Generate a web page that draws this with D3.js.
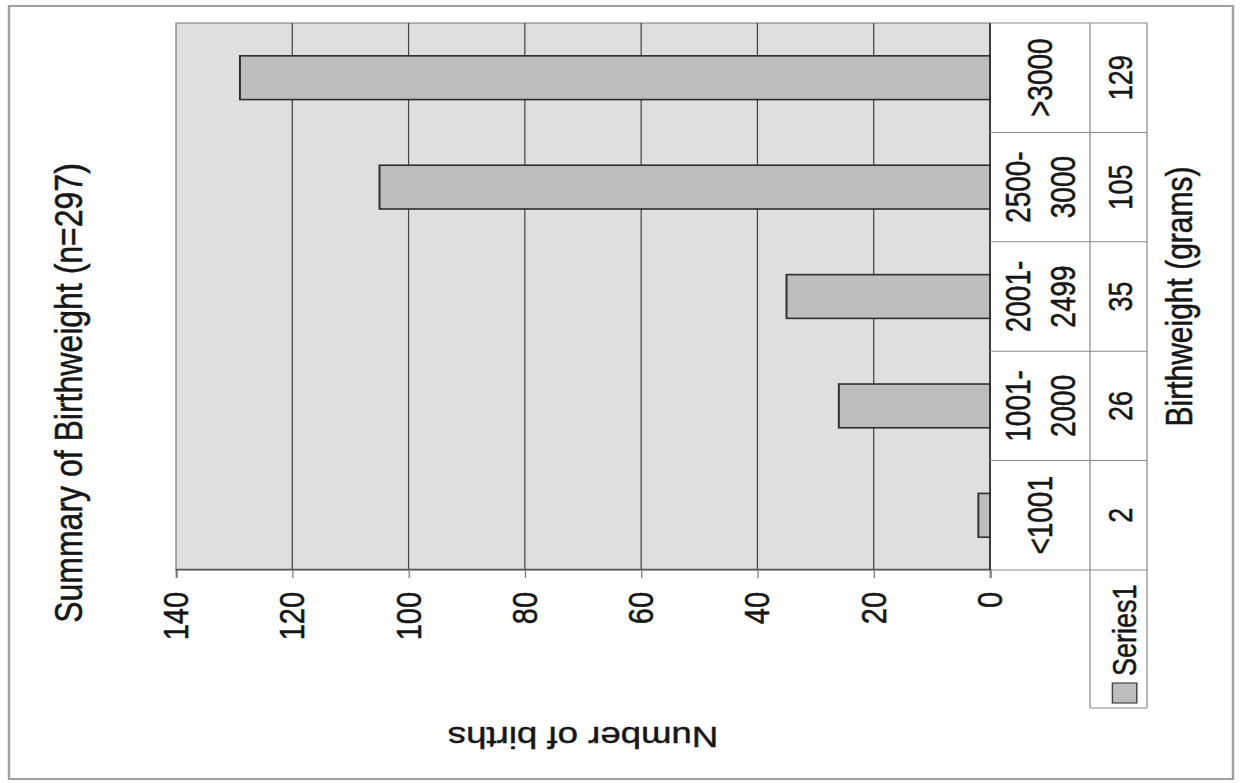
<!DOCTYPE html>
<html>
<head>
<meta charset="utf-8">
<script src="https://cdn.jsdelivr.net/npm/d3@7"></script>
<style>
  body { margin: 0; background: #fff; }
  svg { display: block; font-family: "Liberation Sans", Arial, sans-serif; }
  svg text { stroke: #161616; stroke-width: 0.45px; }
</style>
</head>
<body>
<div id="chart"></div>
<script>
const categories = ["<1001", "1001-2000", "2001-2499", "2500-3000", ">3000"];
const categoryLines = [["<1001"], ["1001-", "2000"], ["2001-", "2499"], ["2500-", "3000"], [">3000"]];
const births = [2, 26, 35, 105, 129];
const valueTicks = [0, 20, 40, 60, 80, 100, 120, 140];
const seriesName = "Series1";
const chartTitle = "Summary of Birthweight (n=297)";
const valueTitle = "Number of births";
const categoryTitle = "Birthweight (grams)";

const width = 1240, height = 783;
const stretch = 1.22; // the scanned page is stretched sideways

// the chart is laid out upright (u across, v down) and then turned a quarter turn
const plot = { left: 213, right: 760, top: 176 / stretch, bottom: 990 / stretch };
const table = { catEnd: 1090 / stretch, valEnd: 1147 / stretch, legendLeft: 75 };
const ink = "#161616";

const svg = d3.select("#chart").append("svg")
  .attr("width", width)
  .attr("height", height);

const g = svg.append("g")
  .attr("transform", `translate(0,${height}) rotate(-90) scale(1,${stretch})`);

// chart border
g.append("rect")
  .attr("x", 4).attr("y", 9 / stretch)
  .attr("width", 773).attr("height", 1224 / stretch)
  .attr("fill", "#fff")
  .attr("stroke", "#a0a0a0")
  .attr("stroke-width", 2);

const x = d3.scaleBand().domain(categories).range([plot.left, plot.right]);
const y = d3.scaleLinear().domain([0, 140]).range([plot.bottom, plot.top]);

// plot area
g.append("rect")
  .attr("x", plot.left).attr("y", plot.top)
  .attr("width", plot.right - plot.left).attr("height", plot.bottom - plot.top)
  .attr("fill", "#dfdfdf")
  .attr("stroke", "#777")
  .attr("stroke-width", 1);

g.append("g")
  .selectAll("line")
  .data(valueTicks.filter((d) => d > 0 && d < 140))
  .join("line")
  .attr("x1", plot.left).attr("x2", plot.right)
  .attr("y1", (d) => y(d)).attr("y2", (d) => y(d))
  .attr("stroke", "#444")
  .attr("stroke-width", 1);

// bars
g.append("g")
  .selectAll("rect")
  .data(births)
  .join("rect")
  .attr("x", (d, i) => x(categories[i]) + x.bandwidth() * 0.3)
  .attr("width", x.bandwidth() * 0.4)
  .attr("y", (d) => y(d))
  .attr("height", (d) => y(0) - y(d))
  .attr("fill", "#bdbdbd")
  .attr("stroke", "#2e2e2e")
  .attr("stroke-width", 1.6);

// value axis
const yAxis = g.append("g")
  .attr("transform", `translate(${plot.left},0)`)
  .call(d3.axisLeft(y).tickValues(valueTicks).tickSize(8).tickPadding(14));
yAxis.select(".domain").attr("stroke", "#555").attr("stroke-width", 1.5);
yAxis.selectAll(".tick line").attr("stroke", "#777");
yAxis.selectAll(".tick text")
  .attr("font-size", 29)
  .attr("fill", ink);

// category axis line
g.append("line")
  .attr("x1", plot.left).attr("x2", plot.right)
  .attr("y1", y(0)).attr("y2", y(0))
  .attr("stroke", "#333")
  .attr("stroke-width", 1.5);

// data table
const grid = g.append("g").attr("stroke", "#8a8a8a").attr("stroke-width", 1);
const cuts = categories.map((c) => x(c)).concat([plot.right]);
grid.selectAll("line.cut")
  .data(cuts)
  .join("line")
  .attr("class", "cut")
  .attr("x1", (d) => d).attr("x2", (d) => d)
  .attr("y1", y(0)).attr("y2", table.valEnd);
grid.append("line")
  .attr("x1", table.legendLeft).attr("x2", plot.right)
  .attr("y1", table.catEnd).attr("y2", table.catEnd);
grid.append("line")
  .attr("x1", table.legendLeft).attr("x2", plot.right)
  .attr("y1", table.valEnd).attr("y2", table.valEnd);
grid.append("line")
  .attr("x1", table.legendLeft).attr("x2", table.legendLeft)
  .attr("y1", table.catEnd).attr("y2", table.valEnd);

const catMid = (y(0) + table.catEnd) / 2;
const lineGap = 37;
g.append("g")
  .selectAll("text")
  .data(categoryLines)
  .join("text")
  .attr("text-anchor", "middle")
  .attr("font-size", 28)
  .attr("fill", ink)
  .each(function (lines, i) {
    d3.select(this).selectAll("tspan")
      .data(lines)
      .join("tspan")
      .attr("x", x(categories[i]) + x.bandwidth() / 2)
      .attr("y", (d, j) => catMid + 10 + (j - (lines.length - 1) / 2) * lineGap)
      .text((d) => d);
  });

const valMid = (table.catEnd + table.valEnd) / 2;
g.append("g")
  .selectAll("text")
  .data(births)
  .join("text")
  .attr("x", (d, i) => x(categories[i]) + x.bandwidth() / 2)
  .attr("y", valMid + 11)
  .attr("text-anchor", "middle")
  .attr("font-size", 27)
  .attr("fill", ink)
  .text((d) => d);

// legend key in the table
g.append("rect")
  .attr("x", 80).attr("y", valMid - 5)
  .attr("width", 20).attr("height", 20)
  .attr("fill", "#bdbdbd")
  .attr("stroke", "#444")
  .attr("stroke-width", 1.2);
g.append("text")
  .attr("x", 107).attr("y", valMid + 14)
  .attr("font-size", 27)
  .attr("fill", ink)
  .text(seriesName);

// titles
g.append("text")
  .attr("x", 390).attr("y", 67.5)
  .attr("text-anchor", "middle")
  .attr("font-size", 32)
  .attr("fill", ink)
  .text(chartTitle);

g.append("text")
  .attr("transform", `translate(56,${(plot.top + plot.bottom) / 2}) rotate(-90)`)
  .attr("text-anchor", "middle")
  .attr("font-size", 30)
  .attr("fill", ink)
  .text(valueTitle);

g.append("text")
  .attr("x", (plot.left + plot.right) / 2).attr("y", 977)
  .attr("text-anchor", "middle")
  .attr("font-size", 30)
  .attr("fill", ink)
  .text(categoryTitle);
</script>
</body>
</html>
